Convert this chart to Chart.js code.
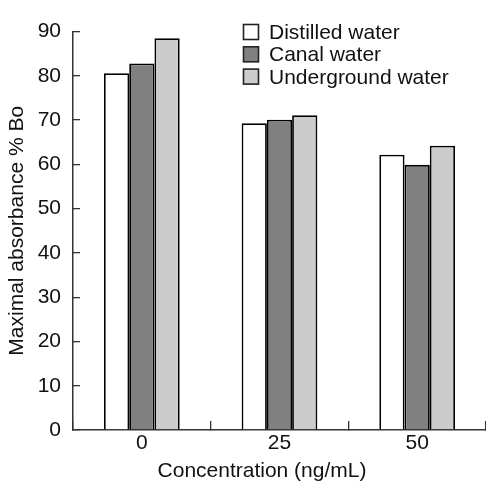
<!DOCTYPE html>
<html>
<head>
<meta charset="utf-8">
<script src="https://cdn.jsdelivr.net/npm/chart.js@4/dist/chart.umd.min.js"></script>
<style>
  html, body { margin: 0; padding: 0; background: #fff; }
  #c { display: block; }
</style>
</head>
<body>
<canvas id="c" width="486" height="483"></canvas>
<script>
const categories = ['0', '25', '50'];
const seriesNames = ['Distilled water', 'Canal water', 'Underground water'];
const distilled = [80.6, 69.3, 62.2];
const canal = [82.8, 70.1, 59.9];
const underground = [88.5, 71.1, 64.2];
const yTicks = [0, 10, 20, 30, 40, 50, 60, 70, 80, 90];
const xTitle = 'Concentration (ng/mL)';
const yTitle = 'Maximal absorbance % Bo';

const FONT = "'Liberation Sans', Arial, Helvetica, sans-serif";
const TXT = '#111';
const AX = '#333';

const legendPlugin = {
  id: 'boxLegend',
  afterDraw(chart) {
    const ctx = chart.ctx;
    ctx.save();
    ctx.font = '21px ' + FONT;
    ctx.textBaseline = 'alphabetic';
    ctx.textAlign = 'left';
    chart.data.datasets.forEach((ds, i) => {
      const y = 24.5 + i * 22.3;
      ctx.fillStyle = ds.backgroundColor;
      ctx.fillRect(243.5, y, 15, 15);
      ctx.lineWidth = 1.6;
      ctx.strokeStyle = '#222';
      ctx.strokeRect(243.5, y, 15, 15);
      ctx.fillStyle = TXT;
      ctx.fillText(ds.label, 269, y + 14.5);
    });
    // x-axis title
    ctx.textAlign = 'center';
    ctx.fillText(xTitle, 262, 476.5);
    ctx.restore();
  }
};

new Chart(document.getElementById('c'), {
  type: 'bar',
  data: {
    labels: categories,
    datasets: [
      { label: seriesNames[0], data: distilled, backgroundColor: '#ffffff' },
      { label: seriesNames[1], data: canal, backgroundColor: '#808080' },
      { label: seriesNames[2], data: underground, backgroundColor: '#cccccc' }
    ]
  },
  options: {
    responsive: false,
    animation: false,
    devicePixelRatio: 1,
    layout: { padding: { top: 18, right: 0, bottom: 0, left: 0 } },
    datasets: {
      bar: {
        categoryPercentage: 0.55,
        barPercentage: 1.0,
        borderColor: '#000',
        borderWidth: 1.8,
        borderSkipped: 'start'
      }
    },
    plugins: {
      legend: { display: false },
      tooltip: { enabled: false },
      title: { display: false }
    },
    scales: {
      x: {
        grid: {
          display: true,
          offset: true,
          drawOnChartArea: false,
          drawTicks: true,
          tickLength: -9,
          color: AX,
          lineWidth: 1.3
        },
        border: { display: true, color: AX, width: 1.5 },
        ticks: {
          color: TXT,
          font: { family: FONT, size: 21 },
          padding: 10,
          maxRotation: 0
        },
        afterFit(scale) { scale.height = 53; }
      },
      y: {
        min: 0,
        max: 90,
        afterBuildTicks(scale) { scale.ticks = yTicks.map(v => ({ value: v })); },
        grid: {
          display: true,
          drawOnChartArea: false,
          drawTicks: true,
          tickLength: -7,
          color: AX,
          lineWidth: 1.3
        },
        border: { display: true, color: AX, width: 1.5 },
        ticks: {
          color: TXT,
          font: { family: FONT, size: 21 },
          padding: 19
        },
        title: {
          display: true,
          text: yTitle,
          color: TXT,
          font: { family: FONT, size: 21 },
          padding: { top: 5, bottom: 0 }
        },
        afterFit(scale) { scale.width = 73; }
      }
    }
  },
  plugins: [legendPlugin]
});
</script>
</body>
</html>
